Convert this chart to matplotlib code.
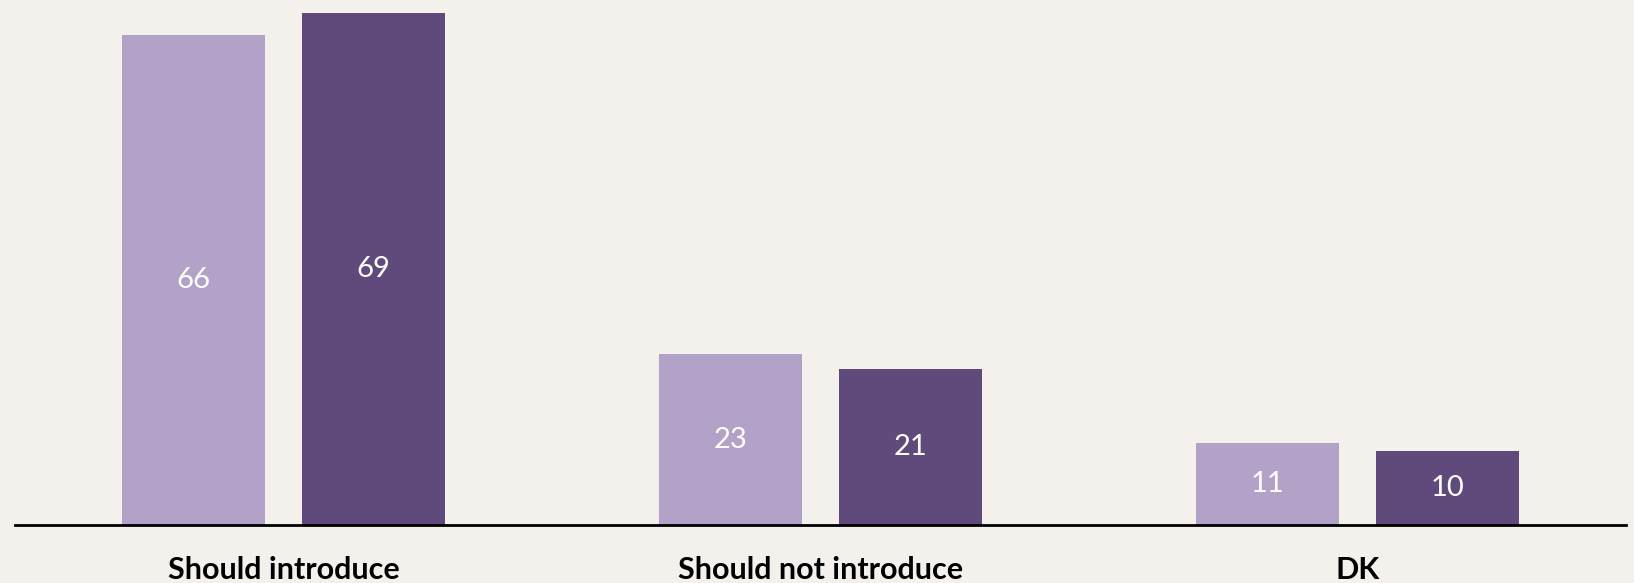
import numpy as np
from matplotlib import pyplot as plt

# Chart data
categories = ['Should introduce', 'Should not introduce', 'DK']
series_a = [66, 23, 11]
series_b = [69, 21, 10]

light = '#B3A2C7'
dark = '#604A7B'
bg = '#F4F1EC'

fig = plt.figure(figsize=(16.34, 5.83), dpi=100, facecolor=bg)
ax = fig.add_axes([15 / 1634, 58 / 583, 1611 / 1634, 522 / 583], facecolor=bg)

x = np.arange(len(categories))
w = 0.266
off = 0.167

bars_a = ax.bar(x - off, series_a, width=w, color=light)
bars_b = ax.bar(x + off, series_b, width=w, color=dark)

# value labels in the middle of each bar
for bars, vals in [(bars_a, series_a), (bars_b, series_b)]:
    for b, v in zip(bars, vals):
        ax.text(b.get_x() + b.get_width() / 2, v / 2, str(v),
                ha='center', va='center', color='white',
                fontsize=21, family='Lato')

ax.set_xlim(-0.5, 2.5)
ax.set_ylim(0, 70.3)

for s in ['top', 'right', 'left']:
    ax.spines[s].set_visible(False)
ax.spines['bottom'].set_linewidth(2)
ax.spines['bottom'].set_color('black')

ax.set_yticks([])
ax.set_xticks(x)
ax.set_xticklabels(categories, fontsize=22, fontweight='bold', family='Lato')
ax.tick_params(axis='x', length=0, pad=22)

plt.savefig('out.png', dpi=100, facecolor=bg)
